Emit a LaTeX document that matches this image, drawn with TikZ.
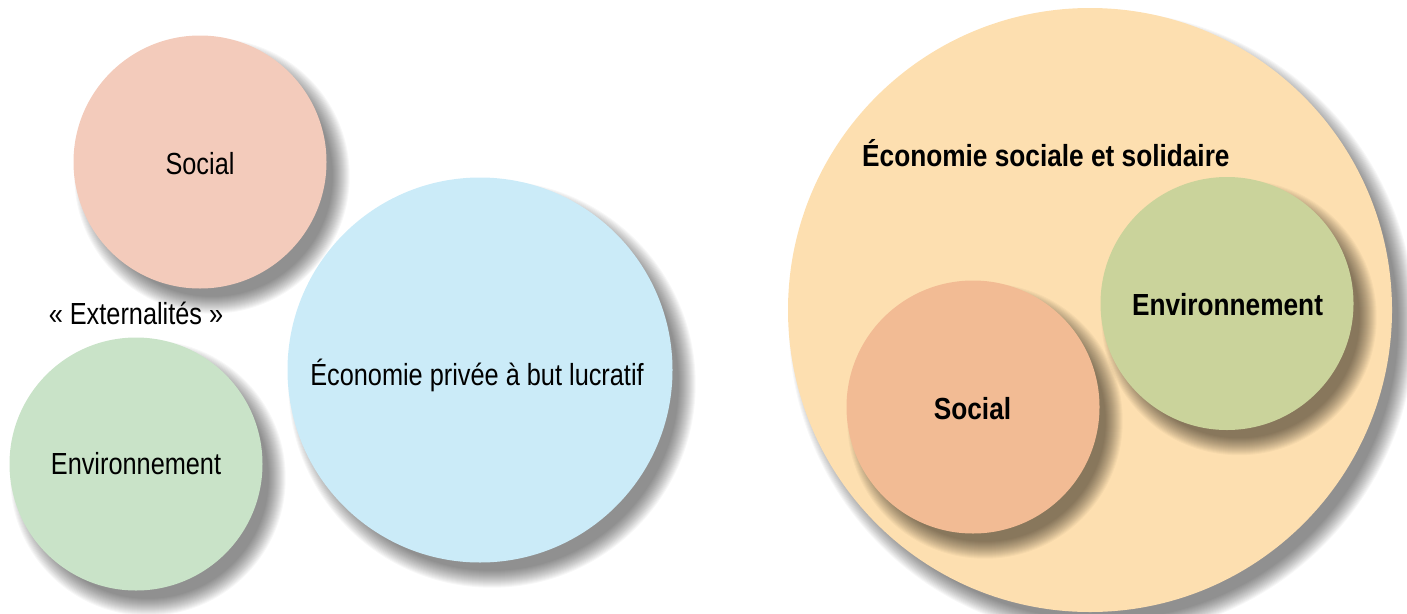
\documentclass[tikz,border=0pt]{standalone}
\usepackage{fontspec}
\newfontfamily\condreg[FakeStretch=0.83]{Liberation Sans}
\newfontfamily\condbold[FakeStretch=0.86]{Liberation Sans}
\usetikzlibrary{calc}

\definecolor{socialpink}{HTML}{F3CBBB}
\definecolor{envgreen}{HTML}{C9E3C8}
\definecolor{ecoblue}{HTML}{CBEBF8}
\definecolor{esspeach}{HTML}{FDDFB0}
\definecolor{socialorange}{HTML}{F2BB94}
\definecolor{envolive}{HTML}{CAD39B}

% soft drop shadow: stacked translucent discs under a circle node
\newcommand\dropshade[1]{%
  \foreach \k in {0,...,17}{%
    \path let \p1=($(#1.east)-(#1.center)$) in
      \pgfextra{\pgfmathsetmacro\rr{\x1-6+\k}}
      [fill=black, opacity=0.032] ($(#1.center)+(12,14)$) circle ({\rr pt});
  }%
}

\tikzset{
  disc/.style={circle, inner sep=0pt, draw=none, minimum size=#1},
  lighttext/.style={anchor=base, inner sep=0pt, font=\condreg\fontsize{30.5}{36}\selectfont},
  boldtext/.style={anchor=base, inner sep=0pt, font=\condbold\bfseries\fontsize{30.5}{36}\selectfont}
}

\begin{document}
\begin{tikzpicture}[x=1pt,y=-1pt]
\useasboundingbox (0,0) rectangle (1407,613);

% ---- left: separate spheres ----
\node[disc=253pt] (soc1) at (200,162) {};
\node[disc=253pt] (env1) at (136,464) {};
\node[disc=385pt] (eco) at (480,370) {};
\dropshade{soc1}
\dropshade{env1}
\dropshade{eco}
\node[disc=253pt, fill=socialpink] at (soc1.center) {};
\node[disc=253pt, fill=envgreen] at (env1.center) {};
\node[disc=385pt, fill=ecoblue] at (eco.center) {};

\node[lighttext] (tsoc1) at (200,174) {Social};
\node[lighttext] (tenv1) at (136,474) {Environnement};
\node[lighttext] (text1) at (136,324.5) {« Externalités »};
\node[lighttext] (teco) at (477,385) {Économie privée à but lucratif};

% ---- right: social and solidarity economy ----
\node[disc=604pt] (ess) at (1090,310) {};
\dropshade{ess}
\node[disc=604pt, fill=esspeach] at (ess.center) {};

\node[disc=253pt] (soc2) at (973,407) {};
\node[disc=253pt] (env2) at (1227,303.5) {};
\dropshade{soc2}
\dropshade{env2}
\node[disc=253pt, fill=socialorange] at (soc2.center) {};
\node[disc=253pt, fill=envolive] at (env2.center) {};

\node[boldtext, anchor=base west] (tess) at (862,166) {Économie sociale et solidaire};
\node[boldtext] (tenv2) at (1227.5,315) {Environnement};
\node[boldtext] (tsoc2) at (972.5,419) {Social};
\end{tikzpicture}
\end{document}
